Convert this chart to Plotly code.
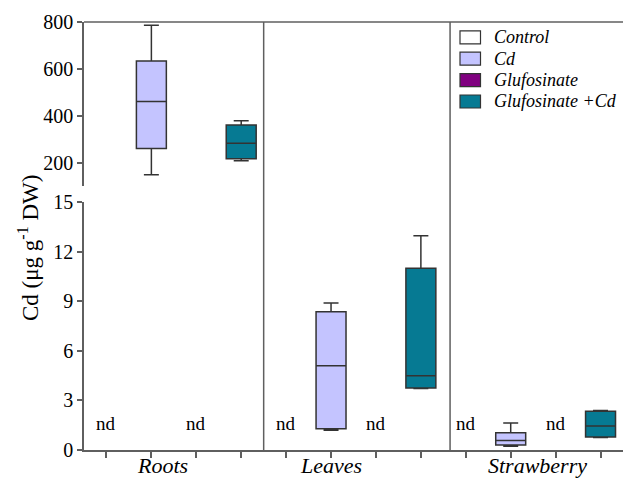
import plotly.graph_objects as go

# ---------------- data ----------------
tissues = ["Roots", "Leaves", "Strawberry"]
treatments = ["Control", "Cd", "Glufosinate", "Glufosinate +Cd"]
colors = ["#FFFFFF", "#C4C4FF", "#800080", "#067A93"]

# box statistics per tissue for the Cd and Glufosinate +Cd treatments
cd_low = [148, 1.19, 0.22]
cd_q1 = [260, 1.28, 0.30]
cd_med = [461, 5.1, 0.58]
cd_q3 = [634, 8.37, 1.04]
cd_high = [786, 8.9, 1.64]

gc_low = [208, 3.73, 0.76]
gc_q1 = [216, 3.75, 0.78]
gc_med = [283, 4.5, 1.46]
gc_q3 = [360, 11.0, 2.35]
gc_high = [378, 12.97, 2.39]

nd_label = "nd"
nd_y = 1.6

y_low_ticks = [0, 3, 6, 9, 12, 15]
y_high_ticks = [200, 400, 600, 800]

# ---------------- figure ----------------
FONT = "Liberation Serif"
LINE = "#333333"
AX = "#5f5f5f"

fig = go.Figure()

def xpos(ti, tr):
    return ti * 4 + tr + 1

series = [
    (1, cd_low, cd_q1, cd_med, cd_q3, cd_high),
    (3, gc_low, gc_q1, gc_med, gc_q3, gc_high),
]
for tr, lo, q1, md, q3, hi in series:
    for ti, t in enumerate(tissues):
        axis = "y2" if t == "Roots" else "y"
        fig.add_trace(go.Box(
            x=[xpos(ti, tr)], lowerfence=[lo[ti]], q1=[q1[ti]], median=[md[ti]],
            q3=[q3[ti]], upperfence=[hi[ti]],
            yaxis=axis, width=0.667, whiskerwidth=0.5,
            fillcolor=colors[tr], line=dict(color=LINE, width=1.5),
            boxpoints=False, showlegend=False, hoverinfo="skip",
            name=treatments[tr],
        ))

annotations = []
# nd labels for Control and Glufosinate
for ti in range(len(tissues)):
    for tr in (0, 2):
        annotations.append(dict(x=xpos(ti, tr), y=nd_y, xref="x", yref="y",
                                text=nd_label, showarrow=False,
                                font=dict(family=FONT, size=19, color="black")))

# tissue labels
label_x = [2.25, 6.0, 10.6]
for t, lx in zip(tissues, label_x):
    annotations.append(dict(x=lx, y=-0.037, xref="x", yref="paper", text=f"<i>{t}</i>",
                            showarrow=False, yanchor="middle", xanchor="center",
                            font=dict(family=FONT, size=22, color="black")))

W, H = 539.0, 428.0
L0, B0 = 84.0, 450.0
def px(x):
    return (x - L0) / W
def py(y):
    return (B0 - y) / H

# y title
annotations.append(dict(x=px(28), y=py(248), xref="paper", yref="paper",
                        xanchor="center", yanchor="middle",
                        text="Cd (μg g<sup>-1</sup> DW)", textangle=-90, showarrow=False,
                        font=dict(family=FONT, size=23, color="black")))

# manual legend
shapes = []
for i, (name, c) in enumerate(zip(treatments, colors)):
    cy = 37.3 + i * 21.4
    shapes.append(dict(type="rect", xref="paper", yref="paper",
                       x0=px(460), x1=px(480.5), y0=py(cy - 6.5), y1=py(cy + 6.5),
                       fillcolor=c, line=dict(color=LINE, width=1.2)))
    annotations.append(dict(x=px(492), y=py(cy), xref="paper", yref="paper",
                            text=f"<i>{name}</i>", showarrow=False,
                            xanchor="left", yanchor="middle",
                            font=dict(family=FONT, size=18, color="black")))

# group separators
for sx in (4.5, 8.65):
    shapes.append(dict(type="line", xref="x", yref="paper", x0=sx, x1=sx, y0=0, y1=1,
                       line=dict(color=AX, width=1.5)))
# top border
shapes.append(dict(type="line", xref="paper", yref="paper", x0=0, x1=1, y0=1, y1=1,
                   line=dict(color=AX, width=1.5)))

fig.update_layout(
    width=623, height=482,
    margin=dict(l=84, r=0, t=22, b=32),
    paper_bgcolor="white", plot_bgcolor="white",
    showlegend=False,
    font=dict(family=FONT, size=19, color="black"),
    xaxis=dict(range=[0.5, 12.5], tickvals=list(range(1, 13)), showticklabels=False,
               ticks="outside", ticklen=6, tickwidth=1.5, tickcolor=AX,
               showline=True, linecolor=AX, linewidth=1.5, showgrid=False,
               zeroline=False, fixedrange=True),
    yaxis=dict(domain=[0, 0.5787], range=[0, 15], tickvals=y_low_ticks,
               ticks="outside", ticklen=5, tickwidth=1.5, tickcolor=AX,
               showline=True, linecolor=AX, linewidth=1.5, showgrid=False,
               zeroline=False, tickfont=dict(family=FONT, size=20)),
    yaxis2=dict(domain=[0.6168, 1], range=[100, 800], tickvals=y_high_ticks,
                anchor="x",
                ticks="outside", ticklen=5, tickwidth=1.5, tickcolor=AX,
                showline=True, linecolor=AX, linewidth=1.5, showgrid=False,
                zeroline=False, tickfont=dict(family=FONT, size=20)),
    shapes=shapes,
    annotations=annotations,
)

fig.write_html("out.html")
